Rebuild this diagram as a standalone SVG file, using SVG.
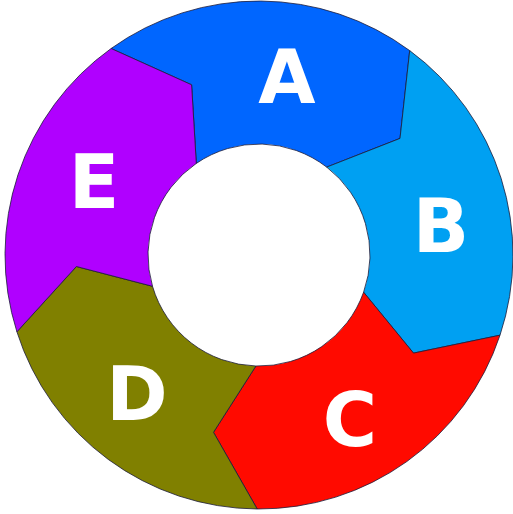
<svg xmlns="http://www.w3.org/2000/svg" width="513" height="514" viewBox="0 0 513 514">
<style>
.seg{stroke:#1c1c3a;stroke-width:1;stroke-opacity:.8;stroke-linejoin:miter}
.lbl{font-family:"DejaVu Sans","Liberation Sans",sans-serif;font-weight:bold;font-size:74px;fill:#ffffff;text-anchor:middle}
</style>
<rect width="513" height="514" fill="#ffffff"/>
<g id="A">
<path class="seg" fill="#0066ff" d="M111.1,48.5 A254,254 0 0 1 409.7,50.6 L400.0,138.4 L326.7,167.1 A111,111 0 0 0 196.3,163.4 L191.6,84.8 Z"/>
<text class="lbl" x="287" y="103">A</text>
</g>
<g id="B">
<path class="seg" fill="#00a0f2" d="M409.7,50.6 A254,254 0 0 1 500.0,335.2 L413.5,353.1 L363.6,292.2 A111,111 0 0 0 326.7,167.1 L400.0,138.4 Z"/>
<text class="lbl" x="441" y="252">B</text>
</g>
<g id="C">
<path class="seg" fill="#ff0a00" d="M500.0,335.2 A254,254 0 0 1 257.2,509 L213.5,432.3 L255.9,366.0 A111,111 0 0 0 363.6,292.2 L413.5,353.1 Z"/>
<text class="lbl" x="350" y="446">C</text>
</g>
<g id="D">
<path class="seg" fill="#808000" d="M257.2,509 A254,254 0 0 1 16.9,331.8 L76.4,266.5 L152.5,286.3 A111,111 0 0 0 255.9,366.0 L213.5,432.3 Z"/>
<text class="lbl" x="137" y="420">D</text>
</g>
<g id="E">
<path class="seg" fill="#b000ff" d="M16.9,331.8 A254,254 0 0 1 111.1,48.5 L191.6,84.8 L196.3,163.4 A111,111 0 0 0 152.5,286.3 L76.4,266.5 Z"/>
<text class="lbl" x="94" y="208">E</text>
</g>
</svg>
